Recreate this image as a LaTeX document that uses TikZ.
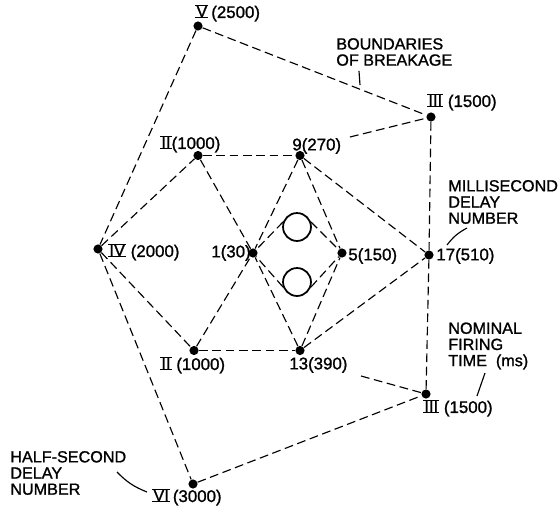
\documentclass[tikz,border=0pt]{standalone}
\usepackage{fontspec}
\setsansfont{Liberation Sans}[BoldFont={Liberation Sans},BoldFeatures={FakeBold=1.2}]
\newcommand{\romnum}[1]{\vbox{\offinterlineskip\hrule height 0.6pt
  \hbox{\kern0.6pt\fontsize{9.4}{9.4}\selectfont #1\kern0.6pt}\hrule height 0.6pt}}
\tikzset{
  blast/.style={circle, fill=black, inner sep=0pt, minimum size=5.2pt},
  delay/.style={anchor=west, inner sep=0pt, font=\sffamily\bfseries\fontsize{9.6}{11}\selectfont},
  note/.style={anchor=west, inner sep=0pt, align=left, font=\sffamily\bfseries\fontsize{9.2}{9.2}\selectfont},
  hole/.style={circle, draw, line width=1pt, inner sep=0pt, minimum size=15.9pt},
  burden/.style={dashed, dash pattern=on 5pt off 2.6pt, line width=0.65pt},
  leader/.style={line width=0.65pt}
}
\begin{document}
\begin{tikzpicture}[x=0.02cm, y=-0.02cm]
\useasboundingbox (0,0) rectangle (559,507);
\node[blast] (P_V) at (198,26) {};
\node[blast] (P_IIIa) at (431,117) {};
\node[blast] (P_IIa) at (198,155.5) {};
\node[blast] (P_9) at (300,155.5) {};
\node[blast] (P_IV) at (98,249) {};
\node[blast] (P_1) at (253,253) {};
\node[blast] (P_5) at (342,253) {};
\node[blast] (P_17) at (429,255) {};
\node[blast] (P_IIb) at (194,350.5) {};
\node[blast] (P_13) at (300,350.5) {};
\node[blast] (P_IIIb) at (426,394) {};
\node[blast] (P_VI) at (193,484) {};
\node[hole] (H_up) at (297,227) {};
\node[hole] (H_down) at (297,282) {};
\node[delay] (L_V) at (195,13) {\romnum{V}\,(2500)};
\node[delay] (L_IIIa) at (427,102) {\romnum{III}\ (1500)};
\node[delay] (L_IIa) at (160,144) {\romnum{II}(1000)};
\node[delay] (L_9) at (292,146) {9(270)};
\node[delay] (L_IV) at (108,252) {\romnum{IV}\ (2000)};
\node[delay] (L_1) at (211,253) {1(30)};
\node[delay] (L_5) at (348,256) {5(150)};
\node[delay] (L_17) at (436,256) {17(510)};
\node[delay] (L_IIb) at (160,365) {\romnum{II}\ (1000)};
\node[delay] (L_13) at (289,365) {13(390)};
\node[delay] (L_IIIb) at (423,408) {\romnum{III}\ (1500)};
\node[delay] (L_VI) at (152,497) {\romnum{VI}\,(3000)};
\node[note] (T_bound) at (336,52) {BOUNDARIES\\OF BREAKAGE};
\node[note] (T_milli) at (448,202) {MILLISECOND\\DELAY\\NUMBER};
\node[note] (T_firing) at (448,346) {NOMINAL\\FIRING\\TIME\ \ (ms)};
\node[note] (T_half) at (10,473) {HALF-SECOND\\DELAY\\NUMBER};
% free ends
\coordinate (E_9) at (350,137);
\coordinate (E_13) at (361,376);
\coordinate (B_a) at (359,71);
\coordinate (B_b) at (360,85);
\coordinate (M_a) at (467,228);
\coordinate (M_b) at (447,245);
\coordinate (N_a) at (485,373);
\coordinate (N_b) at (477,396);
\coordinate (S_a) at (117,472);
\coordinate (S_b) at (147,492);
% outer boundary
\draw[burden] (P_V) -- (P_IIIa);
\draw[burden] (P_V) -- (P_IV);
\draw[burden] (P_IV) -- (P_VI);
\draw[burden] (P_VI) -- (P_IIIb);
\draw[burden] (P_IIIa) -- (P_17);
\draw[burden] (P_17) -- (P_IIIb);
\draw[burden] (E_9) -- (P_IIIa);
\draw[burden] (E_13) -- (P_IIIb);
% inner rings
\draw[burden] (P_IV) -- (P_IIa);
\draw[burden] (P_IV) -- (P_IIb);
\draw[burden] (P_IIa) -- (P_9);
\draw[burden] (P_IIb) -- (P_13);
\draw[burden] (P_IIa) -- (P_1);
\draw[burden] (P_IIb) -- (P_1);
\draw[burden] (P_9) -- (P_1);
\draw[burden] (P_13) -- (P_1);
\draw[burden] (P_9) -- (P_5);
\draw[burden] (P_13) -- (P_5);
\draw[burden] (P_9) -- (P_17);
\draw[burden] (P_13) -- (P_17);
% relief holes
\draw[burden] (H_up.160) -- (P_1);
\draw[burden] (H_up.20) -- (P_5);
\draw[burden] (H_down.200) -- (P_1);
\draw[burden] (H_down.340) -- (P_5);
% leaders
\draw[leader] (B_a) -- (B_b);
\draw[leader] (M_a) to[bend right=12] (M_b);
\draw[leader] (N_a) -- (N_b);
\draw[leader] (S_a) to[bend right=12] (S_b);
\end{tikzpicture}
\end{document}
